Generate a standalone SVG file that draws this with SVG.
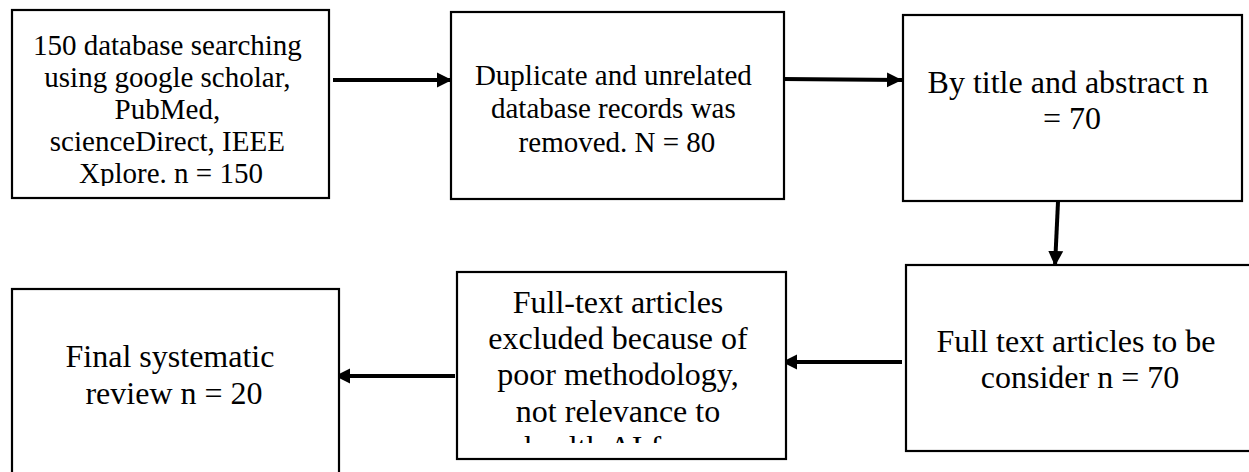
<svg xmlns="http://www.w3.org/2000/svg" width="1249" height="472" viewBox="0 0 1249 472">
<style>
.box{fill:#fff;stroke:#000;stroke-width:2.2}
.t{font-family:"Liberation Serif","Times New Roman",serif;fill:#000;text-anchor:middle}
.s29{font-size:29px}
.s32{font-size:32px}
.c{stroke:#000;stroke-width:4;fill:none;marker-end:url(#ah)}
</style>
<defs>
<marker id="ah" markerUnits="userSpaceOnUse" markerWidth="16" markerHeight="16" viewBox="0 0 16 16" refX="15" refY="8" orient="auto">
<path d="M0,0.5 L15,8 L0,15.5 Z" fill="#000"/>
</marker>
<clipPath id="clip1"><rect x="12" y="10" width="317" height="176"/></clipPath>
<clipPath id="clip6"><rect x="457" y="272" width="329" height="171"/></clipPath>
</defs>
<rect width="1249" height="472" fill="#fff"/>
<g id="connectors">
<line class="c" x1="333" y1="80" x2="452" y2="80"/>
<line class="c" x1="782" y1="79" x2="902" y2="80"/>
<line class="c" x1="1058" y1="202" x2="1055" y2="266"/>
<line class="c" x1="902" y1="362" x2="782" y2="362"/>
<line class="c" x1="455" y1="376" x2="335" y2="376"/>
</g>
<g id="n1">
<rect class="box" x="12" y="10" width="317" height="188"/>
<text class="t s29" clip-path="url(#clip1)">
<tspan x="171" y="55">150 database searching</tspan>
<tspan x="171" y="87">using google scholar,</tspan>
<tspan x="171" y="119">PubMed,</tspan>
<tspan x="171" y="151">scienceDirect, IEEE</tspan>
<tspan x="171" y="183">Xplore. n = 150</tspan>
</text>
</g>
<g id="n2">
<rect class="box" x="451" y="12" width="333" height="187"/>
<text class="t s29">
<tspan x="617" y="84.5">Duplicate and unrelated</tspan>
<tspan x="617" y="118">database records was</tspan>
<tspan x="617" y="151.5">removed. N = 80</tspan>
</text>
</g>
<g id="n3">
<rect class="box" x="903" y="15" width="339" height="186"/>
<text class="t s32">
<tspan x="1072" y="93">By title and abstract n</tspan>
<tspan x="1072" y="129">= 70</tspan>
</text>
</g>
<g id="n4">
<rect class="box" x="906" y="265" width="350" height="186"/>
<text class="t s32">
<tspan x="1080" y="352">Full text articles to be</tspan>
<tspan x="1080" y="388">consider n = 70</tspan>
</text>
</g>
<g id="n5">
<rect class="box" x="12" y="289" width="327" height="200"/>
<text class="t s32">
<tspan x="174" y="367">Final systematic</tspan>
<tspan x="174" y="404">review n = 20</tspan>
</text>
</g>
<g id="n6">
<rect class="box" x="457" y="272" width="329" height="187"/>
<text class="t s32" clip-path="url(#clip6)">
<tspan x="622" y="313">Full-text articles</tspan>
<tspan x="622" y="349">excluded because of</tspan>
<tspan x="622" y="385">poor methodology,</tspan>
<tspan x="622" y="422">not relevance to</tspan>
<tspan x="622" y="458">health AI focus</tspan>
</text>
</g>
</svg>
